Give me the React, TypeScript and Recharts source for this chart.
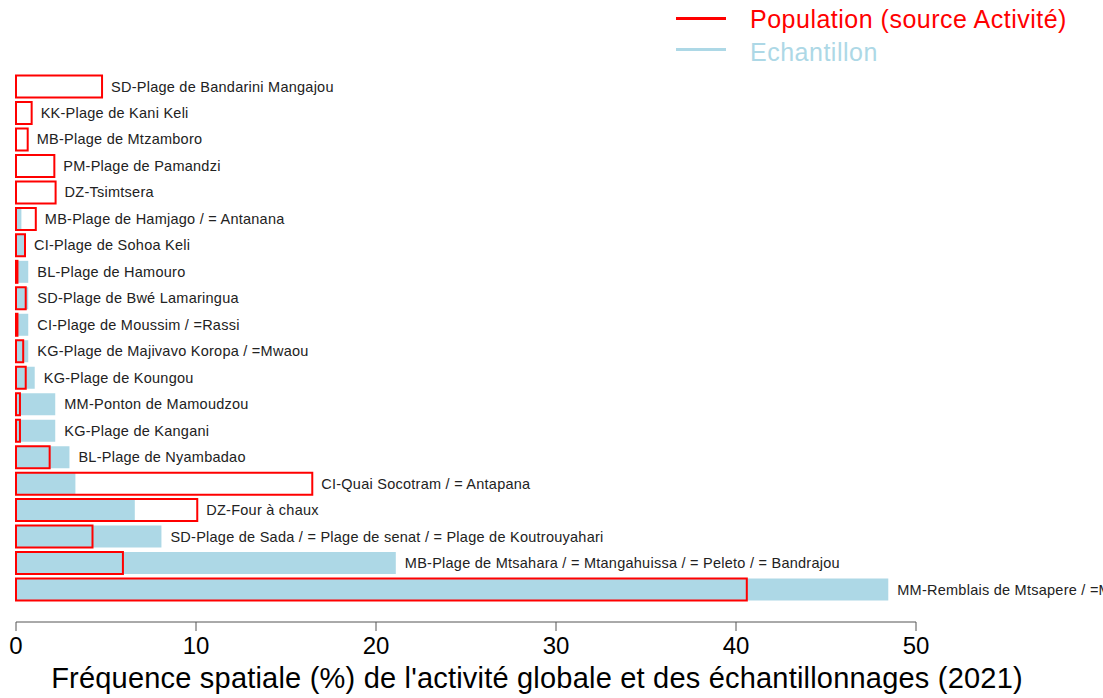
import React from "react";
import { BarChart, Bar, XAxis, YAxis, LabelList, Label } from "recharts";

const sites = [
  "SD-Plage de Bandarini Mangajou",
  "KK-Plage de Kani Keli",
  "MB-Plage de Mtzamboro",
  "PM-Plage de Pamandzi",
  "DZ-Tsimtsera",
  "MB-Plage de Hamjago / = Antanana",
  "CI-Plage de Sohoa Keli",
  "BL-Plage de Hamouro",
  "SD-Plage de Bwé Lamaringua",
  "CI-Plage de Moussim / =Rassi",
  "KG-Plage de Majivavo Koropa / =Mwaou",
  "KG-Plage de Koungou",
  "MM-Ponton de Mamoudzou",
  "KG-Plage de Kangani",
  "BL-Plage de Nyambadao",
  "CI-Quai Socotram / = Antapana",
  "DZ-Four à chaux",
  "SD-Plage de Sada / = Plage de senat / = Plage de Koutrouyahari",
  "MB-Plage de Mtsahara / = Mtangahuissa / = Peleto / = Bandrajou",
  "MM-Remblais de Mtsapere / =Mamoudzou",
];

// % population (source activité)
const population = [
  4.78, 0.87, 0.65, 2.13, 2.2, 1.1, 0.5, 0.08, 0.54, 0.08,
  0.4, 0.54, 0.22, 0.22, 1.87, 16.46, 10.07, 4.25, 5.94, 40.6,
];

// % échantillon
const echantillon = [
  0, 0, 0, 0, 0, 0.3, 0.45, 0.68, 0.68, 0.68,
  0.68, 1.04, 2.18, 2.18, 2.97, 3.3, 6.6, 8.08, 21.1, 48.46,
];

const xTicks = [0, 10, 20, 30, 40, 50];

const data = sites.map((site, i) => ({
  site,
  population: population[i],
  echantillon: echantillon[i],
}));

const FONT = "'Liberation Sans', Arial, sans-serif";

// label goes right of the longer of the two bars
const renderSiteName = (props: any) => {
  const vb = props.viewBox ?? props;
  const i = props.index;
  const pop = population[i];
  const ech = echantillon[i];
  const pxPerUnit = vb.width / pop;
  const end = vb.x + Math.max(pop, ech) * pxPerUnit;
  return (
    <text
      key={"lbl" + i}
      x={end + 9}
      y={vb.y + vb.height / 2}
      dominantBaseline="central"
      fontSize={14.5}
      letterSpacing={0.25}
      fontFamily={FONT}
      fill="#222"
    >
      {sites[i]}
    </text>
  );
};

export default function App() {
  return (
    <div
      style={{
        position: "absolute",
        left: 0,
        top: 0,
        width: 1103,
        height: 698,
        overflow: "hidden",
        background: "#fff",
        fontFamily: FONT,
      }}
    >
      <BarChart
        width={1103}
        height={698}
        data={data}
        layout="vertical"
        margin={{ top: 73.5, right: 187, left: 16, bottom: 0 }}
        barSize={22}
        barGap={-22}
      >
        <XAxis
          type="number"
          domain={[0, 50]}
          ticks={xTicks}
          height={76}
          tickSize={9}
          tickMargin={6}
          axisLine={{ stroke: "#555", strokeWidth: 1 }}
          tickLine={{ stroke: "#555", strokeWidth: 1 }}
          tick={{ fill: "#000", fontSize: 24, fontFamily: FONT }}
        >
          <Label
            content={() => (
              <text
                x={537}
                y={688}
                textAnchor="middle"
                fontSize={29}
                letterSpacing={0.2}
                fontFamily={FONT}
                fill="#000"
              >
                Fréquence spatiale (%) de l'activité globale et des échantillonnages (2021)
              </text>
            )}
          />
        </XAxis>
        <YAxis type="category" dataKey="site" hide padding={{ top: 0, bottom: 19 }} />
        <Bar dataKey="echantillon" fill="#ADD8E6" isAnimationActive={false} />
        <Bar
          dataKey="population"
          fill="none"
          stroke="#FF0000"
          strokeWidth={2}
          isAnimationActive={false}
        >
          <LabelList dataKey="population" content={renderSiteName} />
        </Bar>
      </BarChart>
      <div style={{ position: "absolute", left: 676, top: 16.5, width: 50, height: 3, background: "#FF0000" }} />
      <div
        style={{ position: "absolute", left: 750, top: 7.1, fontSize: 25, lineHeight: "25px", letterSpacing: 0.5, color: "#FF0000", whiteSpace: "nowrap" }}
      >
        Population (source Activité)
      </div>
      <div style={{ position: "absolute", left: 676, top: 48, width: 50, height: 3, background: "#ADD8E6" }} />
      <div
        style={{ position: "absolute", left: 750, top: 39.5, fontSize: 25, lineHeight: "25px", letterSpacing: 0.5, color: "#ADD8E6", whiteSpace: "nowrap" }}
      >
        Echantillon
      </div>
    </div>
  );
}
